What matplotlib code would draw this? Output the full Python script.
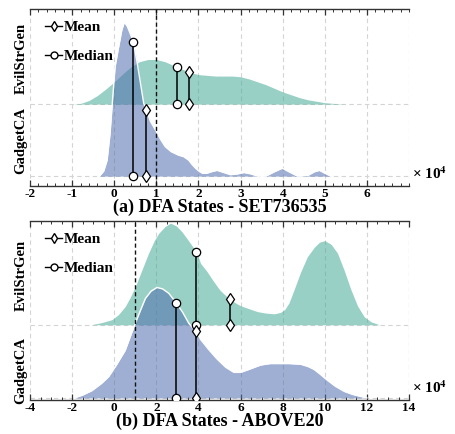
import numpy as np
import matplotlib
matplotlib.use("Agg")
import matplotlib.pyplot as plt
from matplotlib.lines import Line2D
from matplotlib.ticker import MultipleLocator

plt.rcParams['font.family'] = ['Liberation Serif', 'DejaVu Serif']
plt.rcParams['font.weight'] = 'bold'
plt.rcParams['mathtext.fontset'] = 'stix'
plt.rcParams['axes.unicode_minus'] = False

# ---- data (x in units of 1e4 states, y = ridge height) ----
# panel (a) SET736535
a_evil_x = [-1.0, -0.8, -0.6, -0.4, -0.2, 0.0, 0.2, 0.4, 0.6, 0.8, 1.0, 1.2, 1.4, 1.6, 1.8,
            2.0, 2.2, 2.4, 2.6, 2.8, 3.0, 3.2, 3.4, 3.6, 3.8, 4.0, 4.2, 4.4, 4.6, 4.8,
            5.0, 5.2, 5.5]
a_evil_y = [0.0, 0.01, 0.05, 0.12, 0.21, 0.31, 0.42, 0.52, 0.59, 0.62, 0.62, 0.59, 0.54, 0.49, 0.44,
            0.41, 0.40, 0.39, 0.39, 0.39, 0.38, 0.35, 0.31, 0.27, 0.22, 0.17, 0.13, 0.09, 0.06, 0.04,
            0.02, 0.01, 0.0]
a_gadget_x = [-0.35, -0.25, -0.17, -0.10, -0.04, 0.02, 0.10, 0.18, 0.24, 0.31, 0.38, 0.45, 0.54,
              0.62, 0.70, 0.76, 0.86, 0.98, 1.10, 1.21, 1.35, 1.53, 1.65, 1.77, 1.85, 1.93,
              2.01, 2.09, 2.20, 2.30, 2.44, 2.60, 2.76, 2.92, 3.08, 3.25, 3.40, 3.60, 3.80,
              3.99, 4.15, 4.35, 4.60, 4.75, 4.87, 5.00, 5.14]
a_gadget_y = [0.0, 0.07, 0.22, 0.59, 1.06, 1.52, 1.78, 2.03, 2.14, 2.08, 1.98, 1.87, 1.59,
              1.30, 1.01, 0.92, 0.76, 0.64, 0.51, 0.41, 0.34, 0.29, 0.27, 0.22, 0.16, 0.11,
              0.07, 0.04, 0.04, 0.06, 0.08, 0.05, 0.02, 0.03, 0.05, 0.03, 0.0, 0.0, 0.06,
              0.11, 0.06, 0.0, 0.01, 0.06, 0.08, 0.04, 0.0]
a_evil_stats = {'mean': (1.78, 0.44), 'median': (1.50, 0.51)}
a_gadget_stats = {'mean': (0.76, 0.92), 'median': (0.45, 1.87)}
a_ticks = [-2, -1, 0, 1, 2, 3, 4, 5, 6]

# panel (b) ABOVE20
b_evil_x = [-1.1, -0.6, -0.11, 0.2, 0.52, 0.75, 1.0, 1.3, 1.63, 1.9, 2.11, 2.4, 2.67, 2.95, 3.22,
            3.55, 3.89, 4.1, 4.4, 4.7, 5.0, 5.25, 5.48, 5.75, 6.0, 6.4, 6.8, 7.2, 7.6, 7.9,
            8.1, 8.3, 8.54, 8.85, 9.17, 9.5, 9.75, 10.0, 10.3, 10.6, 10.9, 11.24, 11.55,
            11.87, 12.2, 12.6]
b_evil_y = [0.0, 0.03, 0.07, 0.14, 0.25, 0.37, 0.52, 0.74, 0.98, 1.15, 1.25, 1.34, 1.39, 1.35, 1.27,
            1.14, 1.0, 0.84, 0.73, 0.60, 0.48, 0.41, 0.35, 0.30, 0.26, 0.22, 0.18, 0.16, 0.15, 0.17,
            0.21, 0.30, 0.48, 0.72, 0.93, 1.06, 1.13, 1.15, 1.10, 0.98, 0.76, 0.48, 0.26,
            0.11, 0.04, 0.0]
b_gadget_x = [-1.9, -1.5, -1.06, -0.6, -0.27, 0.1, 0.52, 0.75, 1.0, 1.25, 1.48, 1.75, 2.03, 2.3,
              2.59, 2.94, 3.25, 3.54, 3.9, 4.1, 4.49, 4.89, 5.29, 5.68, 6.0, 6.3, 6.95, 7.4,
              7.75, 8.3, 8.86, 9.2, 9.49, 9.8, 10.13, 10.5, 10.92, 11.3, 11.71, 12.0]
b_gadget_y = [0.0, 0.04, 0.10, 0.20, 0.29, 0.45, 0.65, 0.83, 1.02, 1.20, 1.36, 1.46, 1.51, 1.49,
              1.43, 1.30, 1.17, 1.02, 0.90, 0.80, 0.66, 0.53, 0.42, 0.35, 0.35, 0.38, 0.45, 0.47,
              0.47, 0.47, 0.46, 0.43, 0.39, 0.32, 0.24, 0.16, 0.09, 0.05, 0.02, 0.0]
b_evil_stats = {'mean': (5.48, 0.35), 'median': (3.89, 1.00)}
b_gadget_stats = {'mean': (3.90, 0.92), 'median': (2.94, 1.30)}
b_ticks = [-4, -2, 0, 2, 4, 6, 8, 10, 12, 14]

labels = ['GadgetCA', 'EvilStrGen']
green = '#45AA96'
blue = '#506EAF'

fig = plt.figure(figsize=(4.55, 4.34), dpi=100)


def draw(ax, evil, gadget, evil_stats, gadget_stats, xlim, ticks, minor, ylim, ylab_pos, title):
    ax.set_xlim(*xlim)
    ax.set_ylim(*ylim)
    ax.set_xticks(ticks)
    ax.xaxis.set_minor_locator(MultipleLocator(minor))
    ax.grid(axis='x', which='major', ls=(0, (4, 3)), color='#d4d4d4', lw=0.8, zorder=0)
    ax.axvline(xlim[1], ls=(0, (4, 3)), color='#d4d4d4', lw=0.8, zorder=0)
    for b in (0, 1):
        ax.axhline(b, ls=(0, (4, 3)), color='#d4d4d4', lw=0.8, zorder=0)

    # ridges: EvilStrGen above, GadgetCA in front
    ex, ey = np.array(evil[0]), np.array(evil[1])
    gx, gy = np.array(gadget[0]), np.array(gadget[1])
    ax.fill_between(ex, 1, 1 + ey, color=green, alpha=0.55, lw=0, zorder=2)
    ax.fill_between(gx, 0, gy, color=blue, alpha=0.55, lw=0, zorder=3)
    ax.plot(gx, gy, color='white', lw=1.0, zorder=3.5)

    ax.axvline(1, color='#111111', ls=(0, (3, 2)), lw=1.0, zorder=4)

    for base, stats in ((1, evil_stats), (0, gadget_stats)):
        for key, mk in (('median', 'o'), ('mean', 'd')):
            x, h = stats[key]
            ax.plot([x, x], [base, base + h], color='black', lw=1.1, zorder=5)
            ax.plot([x, x], [base, base + h], ls='none', marker=mk, ms=6 if mk == 'o' else 6.5,
                    mfc='white', mec='black', mew=0.9, zorder=6)

    for s in ('left', 'right'):
        ax.spines[s].set_visible(False)
    for s in ('top', 'bottom'):
        ax.spines[s].set_linewidth(1.0)
        ax.spines[s].set_color('#333333')
    ax.tick_params(axis='x', which='both', direction='in', top=True, bottom=True,
                   labelsize=9.5, pad=1.5, color='#333333')
    ax.tick_params(axis='x', which='major', length=4, width=0.9)
    ax.tick_params(axis='x', which='minor', length=2.5, width=0.7)
    for t in ax.get_xticklabels():
        t.set_fontweight('bold')
    ax.set_yticks(ylab_pos)
    ax.set_yticklabels(labels, rotation=90, va='center', fontsize=10.5, fontweight='bold')
    ax.tick_params(axis='y', length=0, pad=2)

    ax.text(1.007, 0.025, '× 10$^{\\mathbf{4}}$', transform=ax.transAxes,
            fontsize=11, fontweight='bold', ha='left', va='bottom')
    ax.set_xlabel(title, fontsize=13, fontweight='bold', labelpad=-1)

    h = [Line2D([], [], color='black', lw=1.0, marker='d', ms=5.5, mfc='white', mec='black'),
         Line2D([], [], color='black', lw=1.0, marker='o', ms=5, mfc='white', mec='black')]
    ax.legend(h, ['Mean', 'Median'], loc='upper left', frameon=False, handlelength=1.1,
              handletextpad=0.1, labelspacing=1.0, borderaxespad=0.35,
              bbox_to_anchor=(0.01, 1.0),
              prop={'weight': 'bold', 'size': 11, 'family': 'Liberation Serif'})


ax1 = fig.add_axes([0.066, 0.571, 0.833, 0.408])
draw(ax1, (a_evil_x, a_evil_y), (a_gadget_x, a_gadget_y), a_evil_stats, a_gadget_stats,
     (-2, 7), a_ticks, 0.2, (-0.14, 2.32), [0.5, 1.63], '(a) DFA States - SET736535')

ax2 = fig.add_axes([0.066, 0.078, 0.833, 0.413])
draw(ax2, (b_evil_x, b_evil_y), (b_gadget_x, b_gadget_y), b_evil_stats, b_gadget_stats,
     (-4, 14), b_ticks, 0.5, (-0.03, 2.42), [0.38, 1.68], '(b) DFA States - ABOVE20')

fig.savefig('out.png', dpi=100)
